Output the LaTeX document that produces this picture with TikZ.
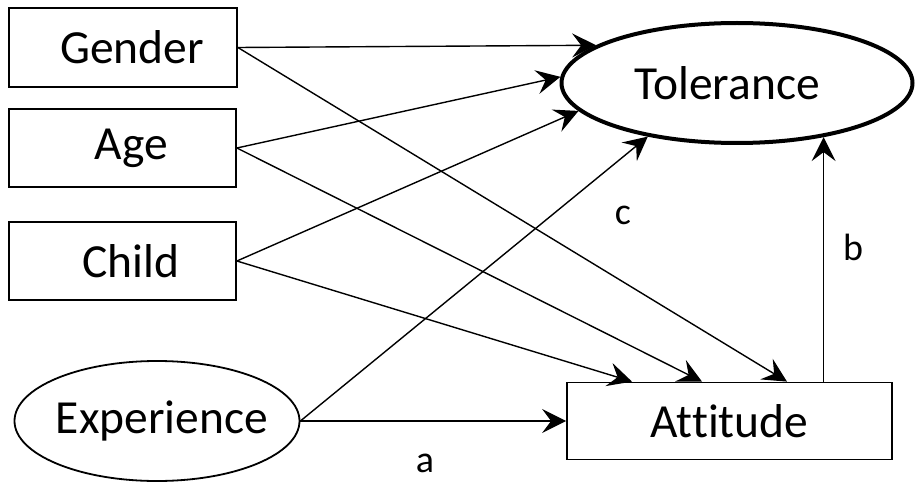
\documentclass[tikz,border=0pt]{standalone}
\usepackage{fontspec}
\setmainfont[Ligatures=NoCommon]{Carlito}
\usetikzlibrary{shapes.geometric,arrows.meta}
\begin{document}
\begin{tikzpicture}[x=1pt,y=-1pt,
  boxnode/.style={draw, line width=1.8pt, rectangle, inner sep=0pt, font=\fontsize{47.5}{52}\selectfont},
  ovalnode/.style={draw, ellipse, inner sep=0pt, font=\fontsize{47.5}{52}\selectfont},
  arr/.style={line width=1.4pt, -{Stealth[length=24pt,width=24pt,inset=9pt]}},
  lbl/.style={font=\fontsize{38}{42}\selectfont, inner sep=0pt}]
\useasboundingbox (0,0) rectangle (916,484);
\node[boxnode, minimum width=228pt, minimum height=79pt] (gender) at (123,47.5) {\hspace*{18pt}Gender};
\node[boxnode, minimum width=227pt, minimum height=78pt] (age) at (122.5,148) {\hspace*{18pt}Age};
\node[boxnode, minimum width=227pt, minimum height=78pt] (child) at (122.5,261) {\hspace*{17pt}Child};
\node[ovalnode, line width=1.8pt, minimum width=285pt, minimum height=120pt] (exp) at (157,421) {\makebox[0pt]{\hspace*{10pt}Experience}};
\node[boxnode, minimum width=325pt, minimum height=77pt] (att) at (729.5,421) {Attitude};
\node[ovalnode, line width=4pt, minimum width=351pt, minimum height=120pt] (tol) at (737,83) {\makebox[0pt]{Tolerance\hspace*{20pt}}};
% to Tolerance
\draw[arr] (gender.east) -- (tol.165.6);
\draw[arr] (age.east) -- (tol.178);
\draw[arr] (child.east) -- (tol.190.3);
\draw[arr] (exp.east) -- (tol.211.2);
% to Attitude
\draw[arr] (gender.east) -- ([xshift=57.5pt]att.north);
\draw[arr] (age.east) -- ([xshift=-27.5pt]att.north);
\draw[arr] (child.east) -- ([xshift=-97.5pt]att.north);
\draw[arr] (exp.east) -- (att.west);
% Attitude to Tolerance
\draw[arr] (att.north -| tol.328.7) -- (tol.328.7);
% labels
\node[lbl] (la) at (425,463) {a};
\node[lbl] (lb) at (853,247) {b};
\node[lbl] (lc) at (623,215) {c};
\end{tikzpicture}
\end{document}
